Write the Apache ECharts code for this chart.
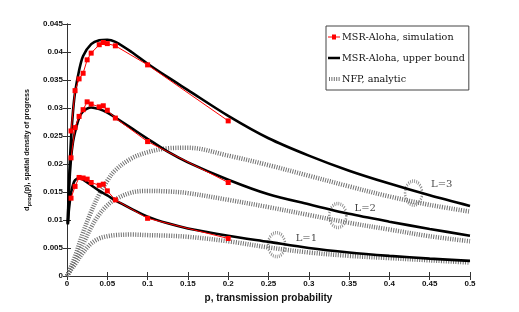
<!DOCTYPE html>
<html><head><meta charset="utf-8">
<script src="https://cdn.jsdelivr.net/npm/echarts@6/dist/echarts.min.js"></script>
<style>html,body{margin:0;padding:0;background:#fff}#c{width:519px;height:312px}</style>
</head><body><div id="c"></div>
<script>
// Simulation points (p values and densities)
const pSim = [0.005,0.01,0.015,0.02,0.025,0.03,0.04,0.045,0.05,0.06,0.1,0.2];
const simL1 = [0.0139,0.0160,0.0176,0.0175,0.0173,0.0167,0.0162,0.0164,0.0152,0.0136,0.0103,0.0067];
const simL2 = [0.0211,0.0265,0.0285,0.0297,0.0311,0.0307,0.0302,0.0304,0.0296,0.0282,0.0240,0.0167];
const simL3 = [0.0259,0.0331,0.0352,0.0362,0.0386,0.0398,0.0413,0.0417,0.0415,0.0411,0.0377,0.0277];

// Upper bound curves
const pBound = [0.001,0.0025,0.005,0.0075,0.01,0.015,0.02,0.03,0.04,0.05,0.06,0.08,0.1,0.125,0.15,0.2,0.25,0.3,0.35,0.4,0.45,0.5];
const boundL3 = [0.0095,0.0170,0.0245,0.0295,0.0328,0.0367,0.0393,0.0414,0.0421,0.0422,0.0418,0.0400,0.0379,0.0355,0.0332,0.0286,0.0246,0.0215,0.0188,0.0165,0.0144,0.0125];
const boundL2 = [0.0093,0.0155,0.0210,0.0240,0.0257,0.0282,0.0294,0.0301,0.0298,0.0292,0.0283,0.0264,0.0245,0.0222,0.0203,0.0172,0.0146,0.0128,0.0111,0.0097,0.0084,0.0072];
const boundL1 = [0.0092,0.0120,0.0148,0.0163,0.0171,0.0175,0.0172,0.0162,0.0152,0.0144,0.0135,0.0120,0.0106,0.0094,0.0085,0.0072,0.0061,0.0050,0.0042,0.0036,0.0031,0.0027];

// NFP analytic curves
const pNfp = [0,0.005,0.01,0.02,0.03,0.04,0.05,0.06,0.08,0.1,0.125,0.15,0.2,0.25,0.3,0.35,0.4,0.45,0.5];
const nfpL3 = [0,0.0017,0.0035,0.0078,0.0115,0.0146,0.0170,0.0189,0.0210,0.0221,0.0228,0.0229,0.0215,0.0198,0.0179,0.0160,0.0142,0.0127,0.0115];
const nfpL2 = [0,0.0014,0.0028,0.0057,0.0087,0.0110,0.0126,0.0137,0.0149,0.0152,0.0151,0.0148,0.0136,0.0123,0.0109,0.0095,0.0083,0.0071,0.0062];
const nfpL1 = [0,0.0011,0.0021,0.0042,0.0058,0.0067,0.0071,0.0073,0.0074,0.0073,0.0072,0.0070,0.0062,0.0051,0.0042,0.0036,0.0032,0.0028,0.0024];

// Annotations
const annoText = ['L=1','L=2','L=3'];
const annoP = [0.297,0.370,0.465];
const annoV = [0.0068,0.0121,0.0164];
const circP = [0.26,0.336,0.43];
const circV = [0.0056,0.0108,0.0148];

const xTicks = [0,0.05,0.1,0.15,0.2,0.25,0.3,0.35,0.4,0.45,0.5];
const yTicks = [0,0.005,0.01,0.015,0.02,0.025,0.03,0.035,0.04,0.045];

const NAME_SIM = 'MSR-Aloha, simulation';
const NAME_BOUND = 'MSR-Aloha, upper bound';
const NAME_NFP = 'NFP, analytic';

const zip = (xs, ys) => xs.map((x, i) => [x, ys[i]]);
const fmt = v => { for (const t of xTicks.concat(yTicks)) if (Math.abs(t - v) < 1e-9) return String(t); return ''; };

const chart = echarts.init(document.getElementById('c'), null, {renderer: 'canvas'});
const axisColor = '#333';
const tickFont = {fontFamily: 'Liberation Sans, Arial, sans-serif', fontWeight: 'bold', fontSize: 8, color: '#111'};
const NFP_COLOR = '#707070';

const nfpStyle = {color: NFP_COLOR, width: 4.5, type: [1, 1.4], cap: 'butt'};
const boundStyle = {color: '#000', width: 2.6};
const series = [];
[nfpL1, nfpL2, nfpL3].forEach(d => series.push({
  name: NAME_NFP, type: 'line', data: zip(pNfp, d), smooth: 0.35, symbol: 'none',
  lineStyle: nfpStyle, itemStyle: {color: NFP_COLOR}, z: 2
}));
[boundL1, boundL2, boundL3].forEach(d => series.push({
  name: NAME_BOUND, type: 'line', data: zip(pBound, d), smooth: 0.3, symbol: 'none',
  lineStyle: boundStyle, itemStyle: {color: '#000'}, z: 3
}));
[simL1, simL2, simL3].forEach(d => series.push({
  name: NAME_SIM, type: 'line', data: zip(pSim, d), symbol: 'rect', symbolSize: 5,
  lineStyle: {color: '#ff0000', width: 1}, itemStyle: {color: '#ff0000'}, z: 4
}));
series.push({
  type: 'scatter', data: zip(circP, circV), symbol: 'circle', symbolSize: [17, 24],
  itemStyle: {color: 'rgba(0,0,0,0)', borderColor: NFP_COLOR, borderWidth: 3, borderType: [1, 1.4]},
  silent: true, z: 2
});
series.push({
  type: 'scatter', data: zip(annoP, annoV).map((d, i) => ({value: d, label: {formatter: annoText[i]}})),
  symbolSize: 0, silent: true, z: 5,
  label: {show: true, position: 'inside', fontFamily: 'DejaVu Serif, Liberation Serif, serif', fontSize: 10, color: '#111'}
});

// legend icons (12 x 10 box; tiny corner dots fix the bounding box)
const corners = 'M0,0H0.01V0.01H0Z M11.99,9.99H12V10H11.99Z ';
const iconSim = 'path://' + corners + 'M0,4.5H12V5.5H0Z M4,2.5H8V7.5H4Z';
const iconBound = 'path://' + corners + 'M0,3.7H12V6.3H0Z';
let hatch = '';
for (let i = 0; i < 5; i++) { const x0 = 1 + i * 2.4; hatch += 'M' + x0 + ',3H' + (x0 + 1) + 'V7H' + x0 + 'Z '; }
const iconNfp = 'path://' + corners + hatch;

chart.setOption({
  animation: false,
  backgroundColor: '#fff',
  grid: {left: 67, right: 49, top: 24, bottom: 36, show: false},
  legend: {
    data: [
      {name: NAME_SIM, icon: iconSim, itemStyle: {color: '#ff0000'}},
      {name: NAME_BOUND, icon: iconBound, itemStyle: {color: '#000'}},
      {name: NAME_NFP, icon: iconNfp, itemStyle: {color: NFP_COLOR}}
    ],
    orient: 'vertical', left: 326, top: 26,
    itemWidth: 12, itemHeight: 10, itemGap: 11,
    padding: [6, 4, 6, 2],
    backgroundColor: '#fff', borderColor: '#444', borderWidth: 1,
    textStyle: {fontFamily: 'DejaVu Serif, Liberation Serif, serif', fontSize: 9.6, color: '#111', padding: [0, 0, 0, -3]}
  },
  xAxis: [{
    type: 'value', min: 0, max: 0.5, interval: 0.05, position: 'bottom',
    name: 'p, transmission probability', nameLocation: 'middle', nameGap: 16,
    nameTextStyle: {fontFamily: 'Liberation Sans, Arial, sans-serif', fontWeight: 'bold', fontSize: 10, color: '#111'},
    axisLine: {show: true, lineStyle: {color: axisColor, width: 1}},
    axisTick: {show: true, inside: true, length: 4, lineStyle: {color: axisColor}},
    axisLabel: Object.assign({formatter: fmt, margin: 4}, tickFont),
    splitLine: {show: false}
  }, {
    type: 'value', min: 0, max: 0.5, interval: 0.05, position: 'top',
    axisLine: {show: true, lineStyle: {color: axisColor, width: 1}},
    axisTick: {show: true, inside: true, length: 4, lineStyle: {color: axisColor}},
    axisLabel: {show: false}, splitLine: {show: false}
  }],
  yAxis: [{
    type: 'value', min: 0, max: 0.045, interval: 0.005, position: 'left',
    name: '{n|d}{s|prog}{n|(p), spatial density of progress}', nameLocation: 'middle', nameGap: 29,
    nameTextStyle: {
      rich: {
        n: {fontFamily: 'Liberation Sans, Arial, sans-serif', fontWeight: 'bold', fontSize: 7.2, color: '#111'},
        s: {fontFamily: 'Liberation Sans, Arial, sans-serif', fontWeight: 'bold', fontSize: 5.8, color: '#111', padding: [5, 0, 0, 0]}
      }
    },
    axisLine: {show: true, lineStyle: {color: axisColor, width: 1}},
    axisTick: {show: true, inside: true, length: 4, lineStyle: {color: axisColor}},
    axisLabel: Object.assign({formatter: fmt, margin: 4}, tickFont),
    splitLine: {show: false}
  }, {
    type: 'value', min: 0, max: 0.045, interval: 0.005, position: 'right',
    axisLine: {show: true, lineStyle: {color: axisColor, width: 1}},
    axisTick: {show: true, inside: true, length: 4, lineStyle: {color: axisColor}},
    axisLabel: {show: false}, splitLine: {show: false}
  }],
  series: series
});
</script></body></html>
